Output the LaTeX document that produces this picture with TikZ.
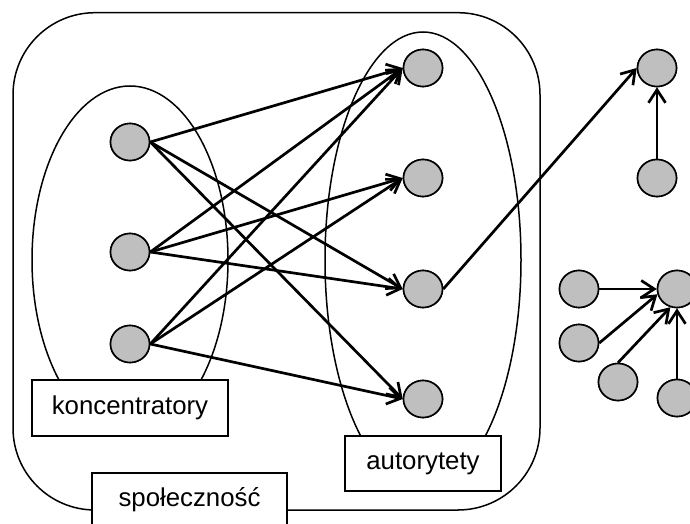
\documentclass[tikz,border=0pt]{standalone}
\usepackage{fontspec}
\setmainfont{Liberation Sans}
\usetikzlibrary{shapes.geometric,arrows.meta}
\begin{document}
\begin{tikzpicture}[x=1pt,y=-1pt,
  vert/.style={draw=black,line width=1.6pt,fill=black!25,ellipse,minimum width=39pt,minimum height=37pt,inner sep=0pt},
  lbl/.style={draw=black,line width=1.5pt,fill=white,inner sep=0pt,font=\fontsize{25.8}{30}\selectfont},
  edge/.style={line width=2.7pt,-{Straight Barb[length=13pt,width=17pt]}},
  outline/.style={line width=1.5pt}]
\useasboundingbox (0,0) rectangle (690,524);
\clip (0,0) rectangle (690,524);
\fill[white] (0,0) rectangle (690,524);
% community
\draw[outline,rounded corners=82pt] (13,12.7) rectangle (540,510);
% hub and authority ellipses
\draw[outline] (130,260) ellipse [x radius=98, y radius=174];
\draw[outline] (423,260) ellipse [x radius=98, y radius=228];
% labels
\node[lbl,minimum width=196pt,minimum height=56pt] (hubs) at (130,408) {koncentratory};
\node[lbl,minimum width=156pt,minimum height=55pt] (auth) at (423,463.5) {autorytety};
\node[lbl,minimum width=195pt,minimum height=54pt] (comm) at (189.5,500) {społeczność};
% nodes
\node[vert] (l1) at (130,142) {};
\node[vert] (l2) at (130,252) {};
\node[vert] (l3) at (130,344) {};
\node[vert] (a) at (423,68) {};
\node[vert] (b) at (423,178) {};
\node[vert] (c) at (423,289) {};
\node[vert] (d) at (423,399) {};
\node[vert] (t1) at (657,68) {};
\node[vert] (t2) at (657,178) {};
\node[vert] (g1) at (579,289) {};
\node[vert] (g2) at (677,289) {};
\node[vert] (g3) at (579,343) {};
\node[vert] (g4) at (618,382) {};
\node[vert] (g5) at (677,398) {};
% edges
\draw[edge] (l1.east) -- (a.west);
\draw[edge] (l1.east) -- (c.west);
\draw[edge] (l1.east) -- (d.west);
\draw[edge] (l2.east) -- (a.west);
\draw[edge] (l2.east) -- (b.west);
\draw[edge] (l2.east) -- (c.west);
\draw[edge] (l3.east) -- (a.west);
\draw[edge] (l3.east) -- (b.west);
\draw[edge] (l3.east) -- (d.west);
\draw[edge] (c.east) -- (t1.west);
\draw[edge] (t2.north) -- (t1.south);
\draw[edge] (g1.east) -- (g2.west);
\draw[edge] (g3.east) -- (g2.195);
\draw[edge] (g4.north) -- (g2.250);
\draw[edge] (g5.north) -- (g2.south);
% redraw nodes on top
\foreach \n in {l1,l2,l3,a,b,c,d,t1,t2,g1,g2,g3,g4,g5}{
  \draw[line width=1.6pt,fill=black!25] (\n) ellipse [x radius=19.5, y radius=18.5];
}
\end{tikzpicture}
\end{document}
